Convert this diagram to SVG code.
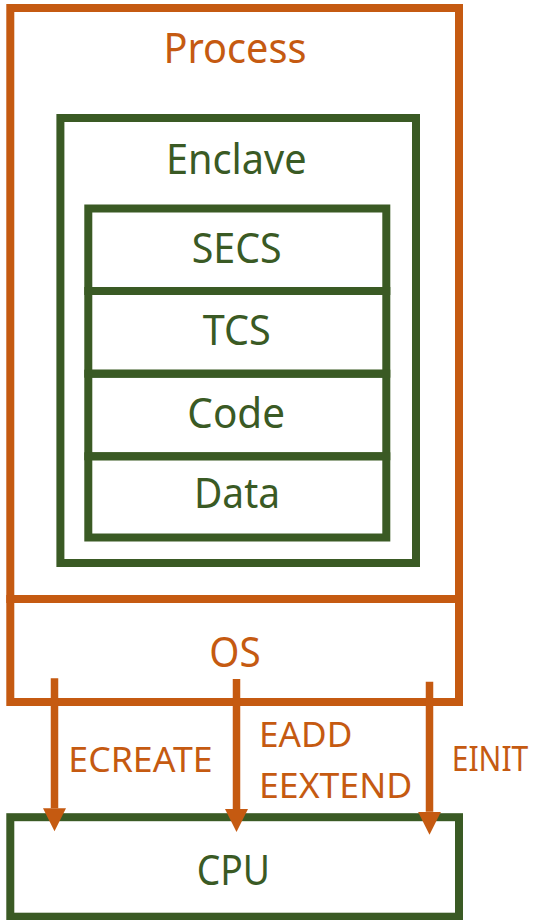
<svg xmlns="http://www.w3.org/2000/svg" width="538" height="920" viewBox="0 0 538 920">
  <style>
    .box { fill: none; stroke-width: 8; }
    .orange { stroke: #C55A11; }
    .green { stroke: #3A5A24; }
    text { font-family: "Noto Sans", "Open Sans", sans-serif; }
    .big { font-size: 41px; text-anchor: middle; }
    .small { font-size: 35px; }
    .to { fill: #C55A11; }
    .tg { fill: #3A5A24; }
    .conn { stroke: #C55A11; stroke-width: 7.5; fill: none; }
  </style>
  <defs>
    <marker id="head" markerUnits="userSpaceOnUse" markerWidth="24" markerHeight="24" refX="0" refY="11.5" orient="auto">
      <path d="M0,0 L23,11.5 L0,23 z" fill="#C55A11"/>
    </marker>
  </defs>
  <rect width="538" height="920" fill="#fff"/>

  <g id="process">
    <rect class="box orange" x="10.3" y="8" width="448.7" height="591"/>
    <text class="big to" x="235" y="63.3" textLength="143" lengthAdjust="spacingAndGlyphs">Process</text>
  </g>

  <g id="enclave">
    <rect class="box green" x="60.4" y="118" width="355.6" height="445"/>
    <text class="big tg" x="236.3" y="173.5" textLength="140.7" lengthAdjust="spacingAndGlyphs">Enclave</text>
  </g>

  <g id="secs">
    <rect class="box green" x="88.3" y="208.5" width="298" height="82.5"/>
    <text class="big tg" x="236.7" y="263" textLength="90" lengthAdjust="spacingAndGlyphs">SECS</text>
  </g>
  <g id="tcs">
    <rect class="box green" x="88.3" y="291" width="298" height="82.7"/>
    <text class="big tg" x="236.7" y="345" textLength="68" lengthAdjust="spacingAndGlyphs">TCS</text>
  </g>
  <g id="code">
    <rect class="box green" x="88.3" y="373.7" width="298" height="82.6"/>
    <text class="big tg" x="236.2" y="428.3" textLength="97.7" lengthAdjust="spacingAndGlyphs">Code</text>
  </g>
  <g id="data">
    <rect class="box green" x="88.3" y="456.3" width="298" height="81.2"/>
    <text class="big tg" x="237" y="508.3" textLength="86" lengthAdjust="spacingAndGlyphs">Data</text>
  </g>

  <g id="os">
    <rect class="box orange" x="10.3" y="599" width="448.7" height="103"/>
    <text class="big to" x="235" y="666.7" textLength="51.4" lengthAdjust="spacingAndGlyphs">OS</text>
  </g>

  <g id="cpu">
    <rect class="box green" x="10.3" y="817.2" width="448.7" height="99.5"/>
    <text class="big tg" x="233.3" y="885" textLength="73.3" lengthAdjust="spacingAndGlyphs">CPU</text>
  </g>

  <g id="connectors">
    <line class="conn" x1="54.5" y1="678.3" x2="54.5" y2="808.3" marker-end="url(#head)"/>
    <line class="conn" x1="236.5" y1="679" x2="236.5" y2="809" marker-end="url(#head)"/>
    <line class="conn" x1="429.5" y1="681.7" x2="429.5" y2="811.7" marker-end="url(#head)"/>
    <text class="small to" x="68.3" y="771.7" textLength="144.4" lengthAdjust="spacingAndGlyphs">ECREATE</text>
    <text class="small to" x="259" y="747.3" textLength="93.3" lengthAdjust="spacingAndGlyphs">EADD</text>
    <text class="small to" x="259" y="798.3" textLength="153.3" lengthAdjust="spacingAndGlyphs">EEXTEND</text>
    <text class="small to" x="451.7" y="771" textLength="76.6" lengthAdjust="spacingAndGlyphs">EINIT</text>
  </g>
</svg>
